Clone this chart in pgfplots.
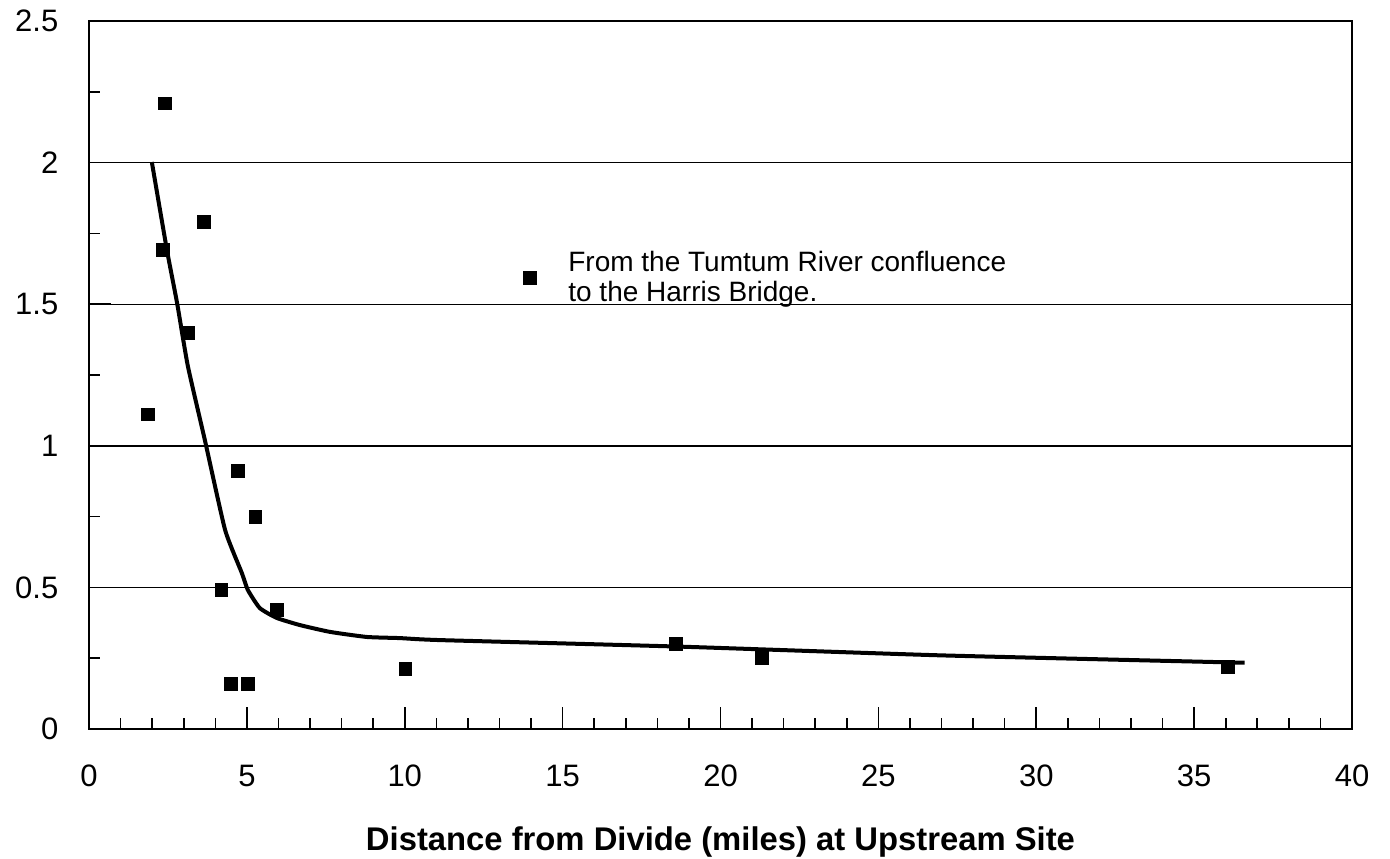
\documentclass[border=0pt]{standalone}
\usepackage{pgfplots}
\pgfplotsset{compat=1.18}
\usepackage{fontspec}
\setmainfont{Liberation Sans}
\begin{document}
\begin{tikzpicture}
\path[use as bounding box] (-44.5pt,-64.5pt) rectangle (650.5pt,364.5pt);
\begin{axis}[
  at={(0,0)}, anchor=south west,
  scale only axis, width=631.5pt, height=354pt,
  xmin=0, xmax=40, ymin=0, ymax=2.5,
  xtick={0,5,...,40}, minor x tick num=4,
  ytick={0,0.5,...,2.5}, minor y tick num=1,
  tick align=inside, tick pos=left,
  major tick length=11pt, minor tick length=5.5pt,
  every tick/.style={black, line width=0.8pt},
  axis line style={line width=1pt},
  ymajorgrids, grid style={black, line width=0.7pt},
  /pgf/number format/assume math mode=true,
  tick label style={font=\fontsize{15.5pt}{18pt}\selectfont},
  yticklabel style={xshift=-11.8pt},
  xticklabel style={yshift=-14.3pt},
  xlabel={\bfseries Distance from Divide (miles) at Upstream Site},
  xlabel style={font=\fontsize{16.4pt}{19pt}\selectfont, at={(axis description cs:0.5,0)}, anchor=base, inner sep=0pt, yshift=-60.5pt},
  legend style={draw=none, fill=none, at={(axis cs:13.75,1.593)}, anchor=west, inner sep=0pt,
    font=\fontsize{14pt}{15pt}\selectfont, cells={anchor=west, align=left},
    /tikz/every odd column/.append style={column sep=14pt}},
  legend cell align=left,
]
\addplot[only marks, mark=square*, mark size=3.2pt, black] coordinates {
(1.87,1.111) (2.35,1.691) (2.41,2.209) (3.13,1.40) (3.64,1.791)
(4.19,0.491) (4.49,0.159) (4.71,0.911) (5.03,0.159) (5.27,0.75)
(5.96,0.42) (10.02,0.211) (18.59,0.30) (21.3,0.252) (36.08,0.22)
};
\addlegendentry{From the Tumtum River confluence\\to the Harris Bridge.}
\addplot[black, line width=2pt, smooth, tension=0.3, forget plot] coordinates {
(1.99,2.002) (2.47,1.69) (2.79,1.504) (3.13,1.282) (3.67,1.02)
(4.31,0.703) (4.84,0.551) (5.03,0.491) (5.41,0.427) (5.95,0.392)
(6.68,0.367) (7.63,0.343) (8.80,0.325) (9.85,0.321) (11.11,0.314)
(18.68,0.291) (27,0.26) (36.6,0.234)
};
\end{axis}
\end{tikzpicture}
\end{document}
